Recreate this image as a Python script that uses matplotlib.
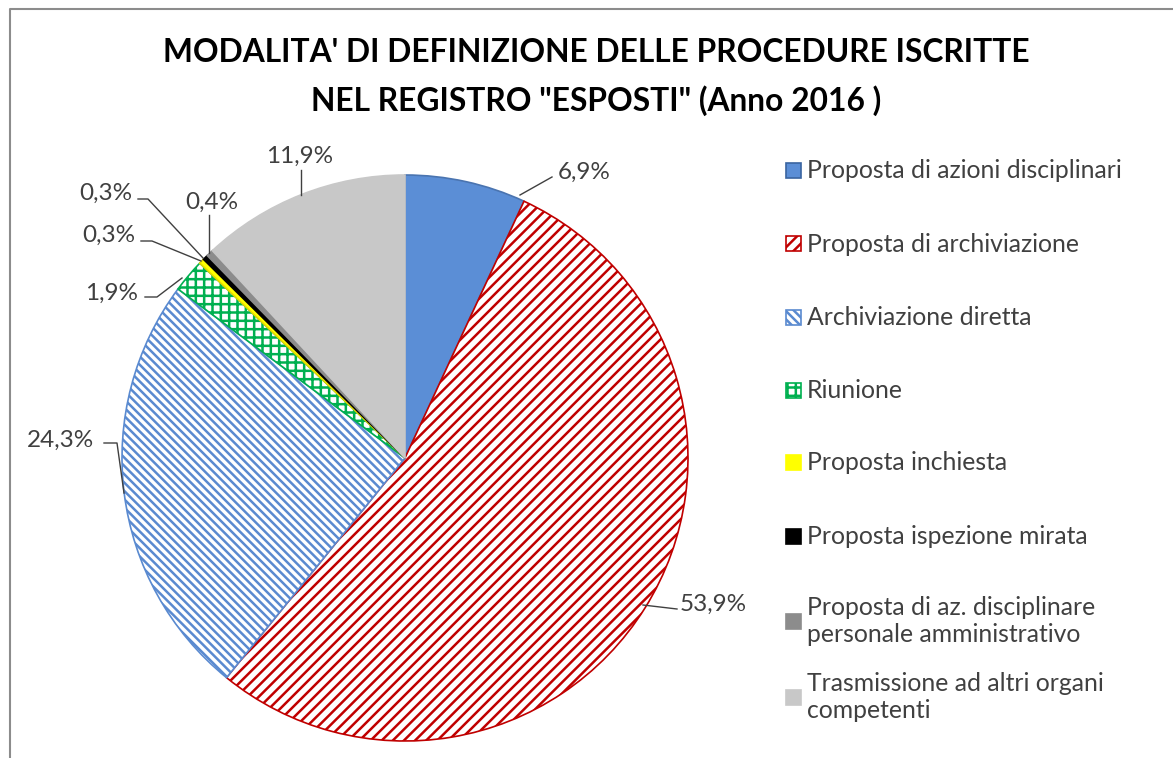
import matplotlib
matplotlib.use("Agg")
import matplotlib.pyplot as plt
from matplotlib.lines import Line2D
from matplotlib.patches import Rectangle

categories = [
    "Proposta di azioni disciplinari",
    "Proposta di archiviazione",
    "Archiviazione diretta",
    "Riunione",
    "Proposta inchiesta",
    "Proposta ispezione mirata",
    "Proposta di az. disciplinare\npersonale amministrativo",
    "Trasmissione ad altri organi\ncompetenti",
]
values = [6.9, 53.9, 24.3, 1.9, 0.3, 0.3, 0.4, 11.9]
title = "MODALITA' DI DEFINIZIONE DELLE PROCEDURE ISCRITTE\nNEL REGISTRO \"ESPOSTI\" (Anno 2016 )"

faces = ["#5B8ED6", "white", "white", "white", "#FFFF00", "#000000", "#8C8C8C", "#C8C8C8"]
edges = ["#4A74B0", "#C00000", "#5A8AD0", "#00B050", "#E6D800", "#000000", "#8C8C8C", "#C8C8C8"]
hatches = [None, "///", "\\\\\\\\", "++", None, None, None, None]

W, H = 1173, 758
plt.rcParams['hatch.linewidth'] = 1.8
plt.rcParams['font.family'] = ['Lato', 'DejaVu Sans']

fig = plt.figure(figsize=(W / 100, H / 100), dpi=100)
fig.patch.set_facecolor("white")

def fx(x):
    return x / W

def fy(y):
    return 1 - y / H

# outer chart border (gray)
fig.add_artist(Line2D([fx(10), fx(10), fx(W + 5)], [fy(H + 5), fy(9), fy(9)],
                      transform=fig.transFigure, color="#8C8C8C", lw=1.5))

cx, cy, r = 405, 458, 283
ax = fig.add_axes([fx(cx - r), fy(cy + r), 2 * r / W, 2 * r / H])
wedges, _ = ax.pie(values, startangle=90, counterclock=False, radius=1,
                   colors=faces, wedgeprops=dict(linewidth=1.2))
for w, ec, h in zip(wedges, edges, hatches):
    w.set_edgecolor(ec)
    if h:
        w.set_hatch(h)
ax.set_xlim(-1, 1)
ax.set_ylim(-1, 1)
ax.set_aspect("equal")
ax.axis("off")

renderer = fig.canvas.get_renderer()

def fit_size(s, target_w, **kw):
    t = fig.text(0, 0, s, fontsize=20, **kw)
    bb = t.get_window_extent(renderer)
    size = 20 * target_w / bb.width
    t.remove()
    return size

# title
t1, t2 = title.split("\n")
ts = fit_size(t1, 868, fontweight="bold")
fig.text(fx(596), fy(52), t1, fontsize=ts, fontweight="bold", ha="center", va="center", color="#000000")
fig.text(fx(596), fy(101), t2, fontsize=ts, fontweight="bold", ha="center", va="center", color="#000000")

# data labels
lab_color = "#404040"
labels = ["%s%%" % str(v).replace(".", ",") for v in values]
ls = fit_size("0,3%", 53)
label_pos = [(584, 172), (713, 604), (61, 440), (112, 293), (109, 235), (106, 193), (212, 202), (300, 156)]
for (x, y), s in zip(label_pos, labels):
    fig.text(fx(x), fy(y), s, fontsize=ls, ha="center", va="center", color=lab_color)

leaders = [
    [(552, 177), (520, 195)],
    [(643, 605), (677, 609)],
    [(104, 443), (117, 443), (124, 493)],
    [(145, 297), (157, 297), (182, 278)],
    [(141, 241), (152, 241), (201, 261)],
    [(138, 199), (148, 199), (203, 258)],
    [(209, 215), (209, 253)],
    [(301, 170), (301, 195)],
]
for pts in leaders:
    fig.add_artist(Line2D([fx(p[0]) for p in pts], [fy(p[1]) for p in pts],
                          transform=fig.transFigure, color="#404040", lw=1.0))

# legend
leg_y = [170, 244, 317, 390, 463, 536, 621, 697]
sw = 15
fs = fit_size(categories[0], 316)
for cat, yy, fc, ec, h in zip(categories, leg_y, faces, edges, hatches):
    rect = Rectangle((fx(786), fy(yy + sw / 2)), sw / W, sw / H, transform=fig.transFigure,
                     facecolor=fc, edgecolor=ec if h else ("#3A64A0" if fc == "#5B8ED6" else fc),
                     hatch=h, lw=1.2)
    fig.add_artist(rect)
    fig.text(fx(807), fy(yy), cat, ha="left", va="center", color=lab_color,
             fontsize=fs, linespacing=1.2)

fig.savefig("out.png", dpi=100, facecolor="white")
